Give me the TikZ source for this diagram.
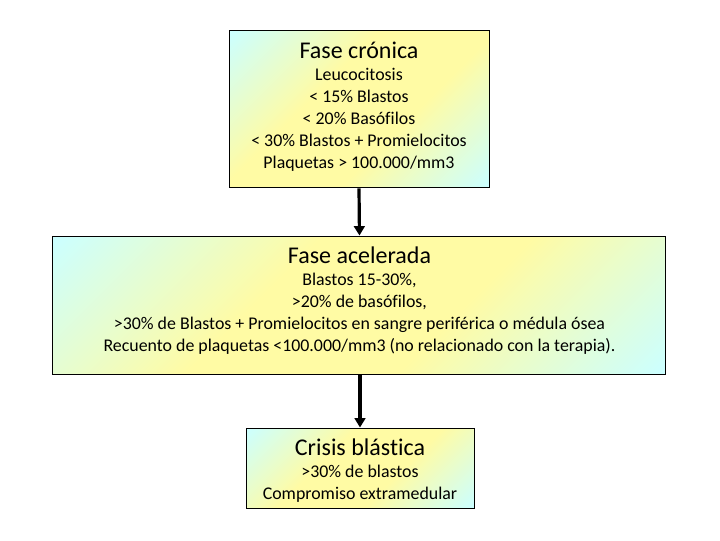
\documentclass[tikz,border=0pt]{standalone}
\usepackage{fontspec}
\setmainfont{Carlito}[Ligatures=NoCommon]
\usetikzlibrary{arrows.meta}
\definecolor{cy}{HTML}{CCFFFF}
\definecolor{ye}{HTML}{FFFBA4}
\pgfdeclareverticalshading{diagband}{100bp}{color(0bp)=(cy); color(15bp)=(cy); color(40bp)=(ye); color(60bp)=(ye); color(85bp)=(cy); color(100bp)=(cy)}
\newcommand{\ttl}{\fontsize{18}{22}\selectfont}
\newcommand{\bdy}{\fontsize{13.4}{16.5}\selectfont}
\tikzset{
  phase/.style={draw=black, line width=0.75pt, shade, shading=diagband,
    shading angle=45, inner sep=0pt},
  ptext/.style={align=center, inner sep=0pt, anchor=north, font=\bdy},
  flow/.style={line width=2.4pt, -{Triangle[length=7pt,width=8pt]}}
}
\begin{document}
\begin{tikzpicture}[x=1pt,y=1pt]
\useasboundingbox (0,0) rectangle (540,-405);
\node[phase, minimum width=195pt, minimum height=117.75pt] (b1) at (269.25,-82.1) {};
\node[ptext] (t1) at ([yshift=-8.8pt]b1.north)
  {{\ttl Fase crónica}\\
   Leucocitosis\\ < 15\% Blastos\\ < 20\% Basófilos\\
   < 30\% Blastos + Promielocitos\\ Plaquetas > 100.000/mm3};
\node[phase, minimum width=459.75pt, minimum height=103.5pt] (b2) at (269.6,-228.75) {};
\node[ptext] (t2) at ([yshift=-8.3pt]b2.north)
  {{\ttl Fase acelerada}\\
   Blastos 15-30\%,\\ >20\% de basófilos,\\
   >30\% de Blastos + Promielocitos en sangre periférica o médula ósea\\
   Recuento de plaquetas <100.000/mm3 (no relacionado con la terapia).};
\node[phase, minimum width=171pt, minimum height=60pt] (b3) at (270,-351) {};
\node[ptext] (t3) at ([yshift=-8.3pt]b3.north)
  {{\ttl Crisis blástica}\\
   >30\% de blastos\\ Compromiso extramedular};
\draw[flow] (b1.south) -- (b2.north);
\draw[flow] (b2.south -| b3.north) -- (b3.north);
\end{tikzpicture}
\end{document}
